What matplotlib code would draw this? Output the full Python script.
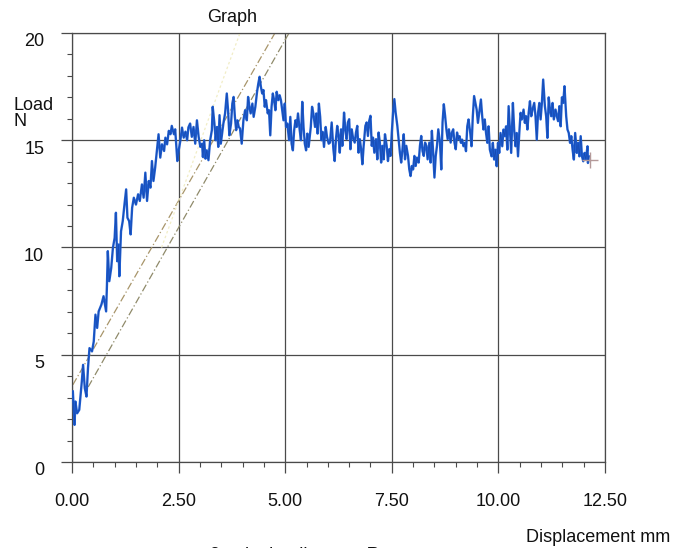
import matplotlib
matplotlib.use("Agg")
import matplotlib.pyplot as plt
import matplotlib.transforms as mtransforms
from matplotlib.ticker import MultipleLocator
import numpy as np

# load / displacement trace, in four stretches
disp_a = [0.02, 0.06, 0.08, 0.12, 0.17, 0.23, 0.26, 0.30, 0.34, 0.375,
          0.41, 0.47, 0.51, 0.55, 0.59, 0.625, 0.69, 0.74, 0.80, 0.82,
          0.84, 0.875, 0.92, 0.96, 1.00, 1.03, 1.06, 1.09, 1.11, 1.15,
          1.19, 1.23, 1.27, 1.30, 1.34, 1.375, 1.41, 1.45, 1.50, 1.55,
          1.59, 1.64, 1.68, 1.72, 1.76, 1.80, 1.84, 1.875, 1.91, 1.95,
          1.99, 2.03, 2.07, 2.11, 2.16, 2.19, 2.23, 2.27, 2.31, 2.34,
          2.39, 2.42, 2.47, 2.50, 2.54, 2.58, 2.62, 2.66, 2.70, 2.73]
load_a = [3.29, 1.73, 2.82, 2.27, 2.43, 3.75, 4.53, 3.44, 3.05, 4.38,
          5.31, 5.16, 5.62, 6.87, 6.25, 7.02, 7.34, 7.73, 7.02, 8.27,
          9.83, 8.43, 9.05, 9.99, 10.45, 11.62, 9.36, 10.14, 8.66, 10.76,
          11.23, 12.0, 12.71, 11.39, 11.23, 10.61, 11.85, 12.32, 12.0, 12.48,
          12.17, 12.94, 12.32, 13.49, 12.17, 13.1, 12.79, 14.03, 13.1, 13.72,
          14.5, 15.28, 14.19, 14.81, 14.5, 15.12, 14.81, 15.44, 15.28, 15.67,
          15.28, 15.51, 14.03, 14.5, 14.97, 15.59, 15.12, 15.4, 15.0, 15.6]

disp_b = [2.77, 2.81, 2.85, 2.89, 2.93, 2.97, 3.01, 3.05, 3.07, 3.10,
          3.13, 3.16, 3.20, 3.24, 3.28, 3.30, 3.34, 3.37, 3.40, 3.43,
          3.46, 3.49, 3.52, 3.55, 3.59, 3.63, 3.66, 3.69, 3.73, 3.76,
          3.79, 3.82, 3.85, 3.88, 3.91, 3.94, 3.98, 4.02, 4.06, 4.10,
          4.13, 4.16, 4.19, 4.23, 4.26, 4.30, 4.34, 4.37, 4.40, 4.43,
          4.46, 4.49, 4.52, 4.55, 4.59, 4.62, 4.65, 4.68, 4.71, 4.74,
          4.77, 4.80, 4.84, 4.87, 4.90, 4.93, 4.96, 4.99, 5.02, 5.05,
          5.09, 5.12, 5.15, 5.18, 5.21, 5.24, 5.27, 5.30, 5.34, 5.37,
          5.40, 5.43, 5.46, 5.49, 5.52, 5.55, 5.60, 5.63, 5.66, 5.70,
          5.73, 5.76, 5.79, 5.82, 5.85, 5.88, 5.91, 5.95, 5.98, 6.02]
load_b = [15.78, 15.16, 15.62, 14.84, 15.93, 15.16, 14.69, 14.84, 14.22, 15.0,
          14.14, 14.53, 14.07, 15.0, 15.47, 16.56, 15.78, 15.0, 15.62, 14.69,
          16.17, 14.84, 15.31, 15.78, 16.25, 17.18, 16.4, 15.23, 15.78, 16.71,
          17.02, 16.09, 15.47, 15.93, 15.62, 15.55, 14.84, 15.93, 16.4, 15.93,
          17.02, 16.56, 16.25, 16.71, 16.09, 16.56, 17.26, 17.65, 17.96, 17.49,
          17.18, 17.34, 16.56, 16.87, 16.25, 16.4, 15.23, 16.56, 17.18, 16.87,
          16.4, 17.26, 16.87, 17.1, 16.87, 16.4, 15.93, 16.71, 15.62, 15.78,
          15.0, 16.09, 14.84, 14.53, 15.47, 15.93, 15.62, 16.25, 15.47, 15.0,
          16.79, 15.62, 14.84, 14.53, 15.31, 14.69, 15.62, 16.56, 16.25, 15.62,
          16.25, 15.31, 16.71, 16.09, 15.0, 15.39, 14.69, 15.62, 15.16, 14.84]

disp_c = [6.05, 6.09, 6.13, 6.16, 6.19, 6.22, 6.25, 6.28, 6.31, 6.34,
          6.38, 6.41, 6.44, 6.47, 6.50, 6.53, 6.56, 6.59, 6.63, 6.66,
          6.69, 6.72, 6.75, 6.78, 6.81, 6.84, 6.88, 6.91, 6.94, 6.97,
          7.00, 7.03, 7.06, 7.09, 7.13, 7.16, 7.19, 7.22, 7.25, 7.28,
          7.31, 7.34, 7.38, 7.41, 7.44, 7.47, 7.50, 7.53, 7.56, 7.59,
          7.63, 7.66, 7.69, 7.72, 7.75, 7.78, 7.81, 7.84, 7.88, 7.91,
          7.94, 7.97, 8.00, 8.03, 8.06, 8.09, 8.13, 8.16, 8.19, 8.22,
          8.25, 8.28, 8.31, 8.34, 8.38, 8.41, 8.44, 8.47, 8.50, 8.53,
          8.56, 8.59, 8.63, 8.66, 8.69, 8.72, 8.75, 8.78, 8.81, 8.84,
          8.88, 8.91, 8.94, 8.97, 9.00, 9.03, 9.06]
load_c = [14.89, 15.83, 14.58, 14.03, 15.05, 15.67, 15.2, 14.42, 15.51, 14.74,
          16.29, 15.51, 15.05, 15.83, 15.98, 14.58, 15.51, 15.12, 14.89, 15.36,
          15.67, 14.42, 15.05, 14.58, 13.88, 14.74, 15.67, 15.83, 15.2, 15.9,
          16.14, 14.74, 15.12, 14.42, 15.05, 14.11, 15.36, 14.89, 13.96, 14.74,
          14.11, 15.28, 14.74, 14.03, 14.58, 14.27, 15.36, 16.29, 16.92, 16.29,
          15.67, 15.05, 14.42, 13.96, 14.58, 15.28, 14.11, 14.74, 14.27, 13.64,
          13.33, 13.8, 13.64, 14.27, 13.8, 14.19, 13.96, 14.74, 15.2, 14.5,
          14.27, 14.89, 14.74, 14.11, 14.89, 13.96, 15.44, 14.42, 13.26, 14.27,
          14.74, 15.51, 14.89, 13.64, 15.83, 16.68, 16.14, 15.51, 15.05, 15.51,
          14.89, 15.36, 15.51, 14.89, 14.58, 15.36, 15.05]

disp_d = [9.09, 9.12, 9.15, 9.18, 9.21, 9.24, 9.27, 9.30, 9.34, 9.37,
          9.40, 9.43, 9.46, 9.49, 9.52, 9.55, 9.59, 9.62, 9.65, 9.68,
          9.71, 9.74, 9.77, 9.80, 9.84, 9.87, 9.90, 9.93, 9.96, 9.99,
          10.02, 10.05, 10.09, 10.12, 10.15, 10.18, 10.21, 10.24, 10.27, 10.30,
          10.34, 10.37, 10.40, 10.43, 10.46, 10.49, 10.52, 10.55, 10.59, 10.62,
          10.65, 10.68, 10.71, 10.74, 10.77, 10.80, 10.84, 10.87, 10.90, 10.93,
          10.96, 10.99, 11.02, 11.05, 11.09, 11.12, 11.15, 11.18, 11.21, 11.24,
          11.27, 11.30, 11.34, 11.37, 11.40, 11.43, 11.46, 11.49, 11.52, 11.55,
          11.59, 11.62, 11.65, 11.68, 11.71, 11.74, 11.77, 11.80, 11.84, 11.87,
          11.90, 11.93, 11.96, 11.99, 12.02, 12.05, 12.09, 12.10, 12.12]
load_d = [15.19, 14.88, 15.03, 14.72, 14.88, 14.49, 15.65, 15.97, 15.34, 14.72,
          16.12, 17.06, 16.74, 16.43, 15.81, 16.28, 16.9, 16.12, 15.5, 15.97,
          15.34, 14.88, 15.65, 14.56, 14.25, 14.88, 14.1, 14.56, 13.79, 14.88,
          14.41, 15.34, 14.72, 15.5, 15.19, 15.65, 14.56, 16.59, 15.5, 14.41,
          16.74, 15.5, 14.72, 15.34, 14.25, 15.34, 16.28, 15.97, 16.43, 15.81,
          16.12, 15.5, 16.28, 16.82, 16.12, 16.43, 16.74, 16.12, 15.03, 16.28,
          16.74, 15.97, 16.74, 17.83, 16.59, 16.12, 15.11, 17.0, 16.43, 16.12,
          16.74, 15.97, 16.43, 16.12, 15.89, 16.59, 15.65, 17.0, 16.74, 17.52,
          16.12, 15.5, 15.34, 14.88, 15.19, 14.56, 14.1, 15.34, 14.41, 14.88,
          14.25, 15.19, 14.25, 14.02, 14.41, 14.1, 14.72, 13.94, 14.25]

# slope guide lines: (x0, y0, x1, y1)
guide_upper = [0.02, 3.6, 4.76, 20.0]
guide_lower = [0.38, 3.5, 5.09, 20.0]
guide_faint = [2.1, 10.0, 3.94, 20.0]
end_point = [12.15, 14.1]

x_ticks = [0.0, 2.5, 5.0, 7.5, 10.0, 12.5]
x_labels = ["0.00", "2.50", "5.00", "7.50", "10.00", "12.50"]
y_ticks = [0, 5, 10, 15, 20]

disp = np.concatenate([disp_a, disp_b, disp_c, disp_d])
load = np.concatenate([load_a, load_b, load_c, load_d])
assert len(disp) == len(load)

plt.rcParams["font.family"] = ["Liberation Sans", "DejaVu Sans"]

fig = plt.figure(figsize=(6.75, 5.48), dpi=100)
ax = fig.add_axes([72 / 675, 1 - 462 / 548, 533 / 675, 429 / 548])

grid_col = "#4a4a4a"
ax.set_xlim(0, 12.5)
ax.set_ylim(0, 20)
ax.set_xticks(x_ticks)
ax.set_xticklabels(x_labels)
ax.set_yticks(y_ticks)
ax.xaxis.set_minor_locator(MultipleLocator(0.5))
ax.yaxis.set_minor_locator(MultipleLocator(1))
ax.grid(True, which="major", color=grid_col, linewidth=0.9)
ax.tick_params(which="major", direction="out", length=8, width=0.9,
               color=grid_col, labelsize=13, labelcolor="#111111")
ax.tick_params(which="minor", direction="out", length=3.5, width=0.8,
               color=grid_col)
ax.tick_params(axis="x", pad=14)
ax.tick_params(axis="y", pad=12)
for sp in ax.spines.values():
    sp.set_color(grid_col)
    sp.set_linewidth(0.9)

# nudge y labels down a little, like the printout
off = mtransforms.ScaledTranslation(0, -5 / 72, fig.dpi_scale_trans)
for lab in ax.get_yticklabels():
    lab.set_transform(lab.get_transform() + off)

for g, col, ls in [(guide_upper, "#a8956a", (0, (6, 2, 1, 2))),
                   (guide_lower, "#8f8a6a", (0, (6, 2, 1, 2))),
                   (guide_faint, "#f1edc6", (0, (2, 2)))]:
    ax.plot([g[0], g[2]], [g[1], g[3]], color=col, linewidth=0.9,
            linestyle=ls, zorder=2)

ax.plot(disp, load, color="#1f5fd2", linewidth=1.7, zorder=3)
ax.plot(disp, load, color="#123c9a", linewidth=0.5, alpha=0.6, zorder=4)
ax.plot([end_point[0]], [end_point[1]], marker="+", markersize=11,
        markeredgewidth=1.0, color="#b49a9a", zorder=5)

fig.text(232 / 675, 1 - 18 / 548, "Graph", fontsize=13, ha="center",
         va="center", color="#111111")
fig.text(13 / 675, 1 - 106 / 548, "Load", fontsize=13, ha="left",
         va="center", color="#111111")
fig.text(13 / 675, 1 - 122 / 548, "N", fontsize=13, ha="left",
         va="center", color="#111111")
fig.text(670 / 675, 1 - 537 / 548, "Displacement mm", fontsize=13,
         ha="right", va="center", color="#111111")
# caption is cut by the bottom edge in the scan as well
fig.text(315 / 675, 1 - 556 / 548, "3 point loading test Report",
         fontsize=13, ha="center", va="center", color="#111111")

fig.savefig("out.png", dpi=100)
